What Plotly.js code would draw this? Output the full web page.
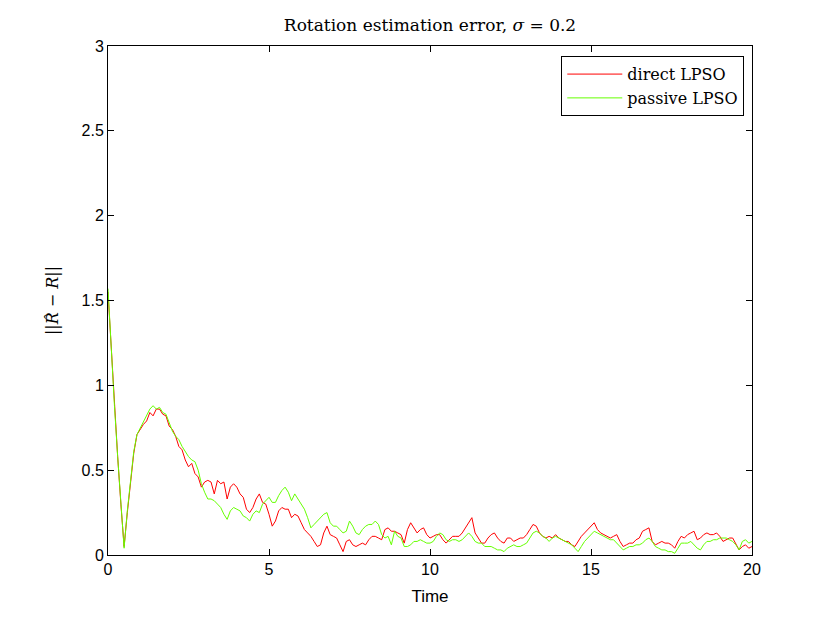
<!DOCTYPE html>
<html>
<head>
<meta charset="utf-8">
<script src="https://cdn.plot.ly/plotly-3.0.1.min.js"></script>
<style>
  body { margin: 0; background: #fff; }
  #chart { width: 830px; height: 624px; }
</style>
</head>
<body>
<div id="chart"></div>
<script>
// samples every 0.1 s
var tStart = 0, tStep = 0.1;

var directLPSO = [
  1.55, 1.20, 0.88, 0.58, 0.30, 0.05, 0.25, 0.44, 0.60, 0.71,
  0.74, 0.77, 0.79, 0.84, 0.82, 0.86, 0.86, 0.83, 0.82, 0.76,
  0.74, 0.70, 0.64, 0.62, 0.56, 0.52, 0.54, 0.48, 0.46, 0.40,
  0.43, 0.44, 0.43, 0.36, 0.44, 0.42, 0.43, 0.33, 0.40, 0.42,
  0.40, 0.36, 0.34, 0.27, 0.25, 0.28, 0.33, 0.36, 0.31, 0.30,
  0.24, 0.17, 0.20, 0.26, 0.28, 0.27, 0.27, 0.22, 0.24, 0.23,
  0.19, 0.15, 0.13, 0.11, 0.08, 0.05, 0.06, 0.13, 0.17, 0.12,
  0.11, 0.10, 0.06, 0.02, 0.08, 0.09, 0.06, 0.05, 0.06, 0.07,
  0.06, 0.09, 0.11, 0.11, 0.10, 0.09, 0.15, 0.16, 0.14, 0.14,
  0.13, 0.12, 0.07, 0.15, 0.19, 0.16, 0.13, 0.15, 0.16, 0.12,
  0.10, 0.11, 0.12, 0.12, 0.09, 0.07, 0.09, 0.11, 0.11, 0.11,
  0.13, 0.16, 0.19, 0.22, 0.13, 0.10, 0.07, 0.07, 0.10, 0.12,
  0.13, 0.10, 0.08, 0.07, 0.10, 0.10, 0.08, 0.09, 0.10, 0.10,
  0.12, 0.15, 0.18, 0.17, 0.13, 0.11, 0.10, 0.11, 0.10, 0.12,
  0.10, 0.09, 0.08, 0.08, 0.06, 0.05, 0.08, 0.11, 0.13, 0.15,
  0.17, 0.19, 0.15, 0.13, 0.12, 0.11, 0.10, 0.11, 0.12, 0.08,
  0.05, 0.06, 0.07, 0.07, 0.09, 0.10, 0.14, 0.15, 0.16, 0.08,
  0.06, 0.07, 0.08, 0.07, 0.07, 0.06, 0.04, 0.08, 0.11, 0.10,
  0.12, 0.13, 0.14, 0.09, 0.10, 0.12, 0.13, 0.12, 0.12, 0.13,
  0.11, 0.08, 0.09, 0.10, 0.10, 0.06, 0.03, 0.05, 0.06, 0.04,
  0.05
];

var passiveLPSO = [
  1.57, 1.20, 0.88, 0.58, 0.30, 0.04, 0.26, 0.45, 0.61, 0.71,
  0.75, 0.79, 0.82, 0.86, 0.88, 0.86, 0.87, 0.84, 0.83, 0.78,
  0.73, 0.70, 0.68, 0.64, 0.61, 0.58, 0.56, 0.55, 0.50, 0.42,
  0.37, 0.33, 0.33, 0.32, 0.30, 0.28, 0.24, 0.21, 0.26, 0.28,
  0.27, 0.26, 0.23, 0.22, 0.20, 0.24, 0.26, 0.25, 0.30, 0.32,
  0.34, 0.31, 0.31, 0.35, 0.38, 0.40, 0.37, 0.32, 0.36, 0.33,
  0.30, 0.27, 0.22, 0.16, 0.18, 0.20, 0.22, 0.24, 0.25, 0.19,
  0.17, 0.17, 0.15, 0.13, 0.14, 0.20, 0.17, 0.13, 0.12, 0.15,
  0.17, 0.18, 0.18, 0.20, 0.18, 0.12, 0.10, 0.11, 0.06, 0.14,
  0.11, 0.10, 0.05, 0.05, 0.06, 0.08, 0.08, 0.09, 0.08, 0.07,
  0.07, 0.08, 0.11, 0.13, 0.12, 0.09, 0.08, 0.09, 0.09, 0.08,
  0.09, 0.11, 0.13, 0.11, 0.08, 0.07, 0.07, 0.05, 0.05, 0.05,
  0.04, 0.03, 0.03, 0.02, 0.04, 0.05, 0.06, 0.05, 0.05, 0.06,
  0.07, 0.10, 0.13, 0.14, 0.13, 0.11, 0.10, 0.08, 0.10, 0.11,
  0.10, 0.09, 0.08, 0.07, 0.06, 0.04, 0.02, 0.05, 0.08, 0.10,
  0.12, 0.14, 0.13, 0.12, 0.11, 0.10, 0.09, 0.09, 0.07, 0.05,
  0.03, 0.04, 0.05, 0.05, 0.06, 0.06, 0.07, 0.09, 0.10, 0.08,
  0.05, 0.04, 0.03, 0.03, 0.02, 0.02, 0.01, 0.04, 0.07, 0.07,
  0.07, 0.08, 0.06, 0.04, 0.03, 0.06, 0.08, 0.08, 0.09, 0.09,
  0.10, 0.10, 0.10, 0.09, 0.08, 0.06, 0.03, 0.08, 0.09, 0.07,
  0.08
];

var xTicks = [0, 5, 10, 15, 20];
var yTicks = [0, 0.5, 1, 1.5, 2, 2.5, 3];

function timeAxis(n){
    var t = [];
    for(var i = 0; i < n; i++){
        t.push(+(tStart + i*tStep).toFixed(2));
    }
    return t;
}

var serif = "DejaVu Serif, Liberation Serif, serif";
var sans = "Liberation Sans, Arial, sans-serif";

var trace1 = {
    x: timeAxis(directLPSO.length),
    y: directLPSO,
    name: "direct LPSO",
    type: 'scatter',
    mode: 'lines',
    line: {color: '#ff0000', width: 1}
};
var trace2 = {
    x: timeAxis(passiveLPSO.length),
    y: passiveLPSO,
    name: "passive LPSO",
    type: 'scatter',
    mode: 'lines',
    line: {color: '#66ff00', width: 1}
};

var axisStyle = {
    showgrid: false,
    zeroline: false,
    showline: true,
    mirror: 'ticks',
    linecolor: '#000',
    linewidth: 1,
    ticks: 'inside',
    ticklen: 6,
    tickcolor: '#000',
    tickfont: {family: sans, size: 16, color: '#000'}
};

var layout = {
    width: 830,
    height: 624,
    margin: {l: 108, r: 78, t: 46, b: 69},
    paper_bgcolor: '#fff',
    plot_bgcolor: '#fff',
    title: {
        text: "Rotation estimation error, <i>σ</i> = 0.2",
        font: {family: serif, size: 17, color: '#000'},
        x: 0.5, xref: 'paper',
        y: 0.96, yanchor: 'middle'
    },
    xaxis: Object.assign({}, axisStyle, {
        range: [0, 20],
        tickvals: xTicks,
        title: {text: "Time", font: {family: sans, size: 17, color: '#000'}, standoff: 12}
    }),
    yaxis: Object.assign({}, axisStyle, {
        range: [0, 3],
        tickvals: yTicks,
        ticktext: yTicks.map(String),
        title: {text: "||<i>R̂</i> − <i>R</i>||", font: {family: serif, size: 16, color: '#000'}, standoff: 18}
    }),
    legend: {
        x: 0.988, xanchor: 'right',
        y: 0.98, yanchor: 'top',
        bgcolor: '#fff',
        bordercolor: '#000',
        borderwidth: 1,
        itemwidth: 55,
        font: {family: serif, size: 16, color: '#000'},
        tracegroupgap: 0
    },
    showlegend: true
};

Plotly.newPlot('chart', [trace1, trace2], layout, {displayModeBar: false, staticPlot: true});
</script>
</body>
</html>
